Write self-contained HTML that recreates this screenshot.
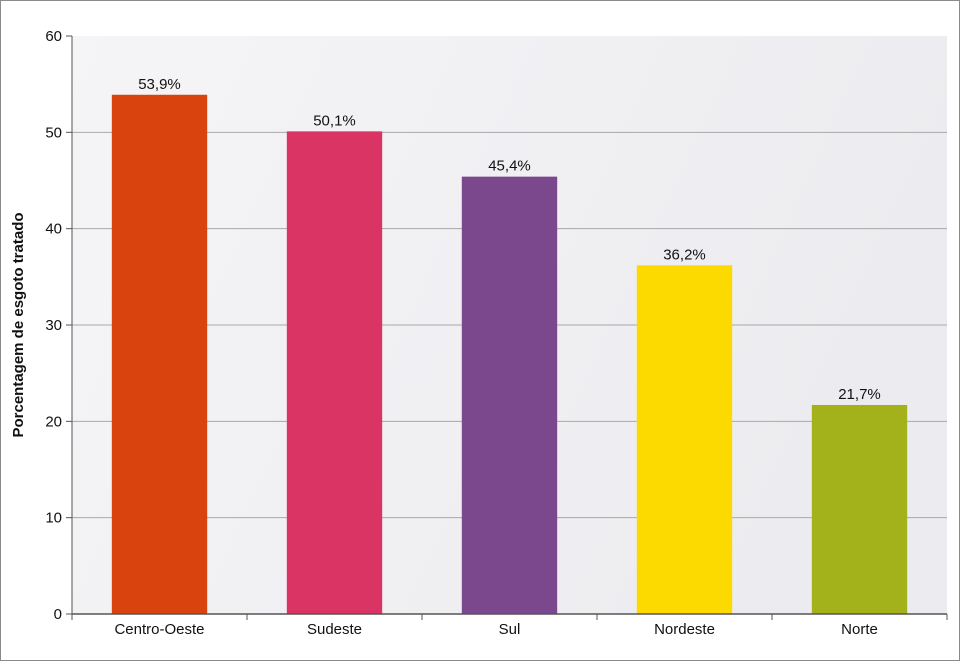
<!DOCTYPE html>
<html><head><meta charset="utf-8"><style>
html,body{margin:0;padding:0;background:#fff}
svg{display:block;font-family:"Liberation Sans",Arial,sans-serif}
</style></head><body>
<svg id="c" width="961" height="662">
<defs><linearGradient id="bg" x1="0" y1="0" x2="1" y2="0.3">
<stop offset="0" stop-color="#f5f5f7"/><stop offset="1" stop-color="#ececf0"/></linearGradient></defs>
<rect x="0.5" y="0.5" width="959" height="660" fill="#fff" stroke="#8a8a8a"/>
<rect x="72" y="36" width="875" height="578" fill="url(#bg)"/>
<g id="grid"></g><g id="bars"></g><g id="axes"></g>
<text transform="translate(23,325) rotate(-90)" text-anchor="middle" font-size="15" font-weight="bold" fill="#111">Porcentagem de esgoto tratado</text>
</svg>
<script>
const categories=["Centro-Oeste","Sudeste","Sul","Nordeste","Norte"];
const values=[53.9,50.1,45.4,36.2,21.7];
const labels=["53,9%","50,1%","45,4%","36,2%","21,7%"];
const colors=["#d9430e","#d93463","#7b478d","#fcda00","#a3b11a"];
const yTicks=[0,10,20,30,40,50,60];
const NS="http://www.w3.org/2000/svg";
const x0=72,x1=947,yTop=36,yBot=614,yMax=60;
const band=(x1-x0)/categories.length;
function y(v){return yBot-(v/yMax)*(yBot-yTop);}
function xc(i){return x0+band*(i+0.5);}
function mk(t,a,p){const e=document.createElementNS(NS,t);for(const k in a)e.setAttribute(k,a[k]);p.appendChild(e);return e;}
const g=document.getElementById('grid'),b=document.getElementById('bars'),ax=document.getElementById('axes');
yTicks.forEach(v=>{
 if(v>0&&v<yMax){const l=mk('line',{x1:x0,x2:x1,y1:y(v),y2:y(v),stroke:'#a8a8a8','stroke-width':1},g);
 
 }
 const t=mk('line',{x1:x0-6,x2:x0,y1:y(v),y2:y(v),stroke:'#555'},ax);
 
 
 const tx=mk('text',{x:x0-10,y:y(v)+5,'text-anchor':'end','font-size':15,fill:'#111'},ax);tx.textContent=v;
 
 
});
const bw=band*0.545;
categories.forEach((c,i)=>{
 const r=mk('rect',{x:xc(i)-bw/2,y:y(values[i]),width:bw,height:yBot-y(values[i]),fill:colors[i]},b);
 
 
 const l=mk('text',{x:xc(i),y:y(values[i])-6,'text-anchor':'middle','font-size':15,fill:'#111'},b);l.textContent=labels[i];
 
 
 const t=mk('text',{x:xc(i),y:yBot+20,'text-anchor':'middle','font-size':15,fill:'#111'},ax);t.textContent=c;
 
 
});
for(let i=0;i<=categories.length;i++){
 const t=mk('line',{x1:x0+band*i,x2:x0+band*i,y1:yBot,y2:yBot+6,stroke:'#555'},ax);
 
 
}
const xa=mk('line',{x1:x0,x2:x1,y1:yBot,y2:yBot,stroke:'#555','stroke-width':1.5},ax);


const ya=mk('line',{x1:x0,x2:x0,y1:yTop,y2:yBot,stroke:'#555'},ax);


</script>
</body></html>
